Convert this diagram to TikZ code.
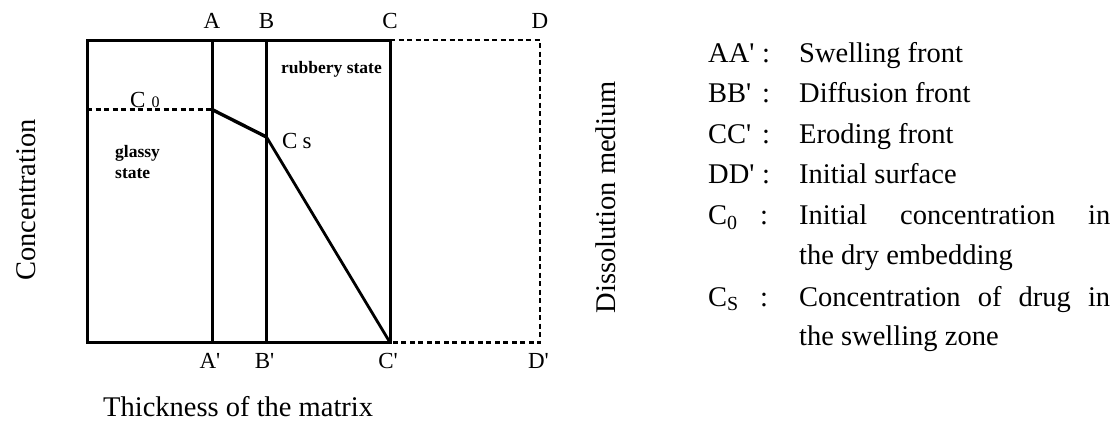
\documentclass[tikz,border=0pt]{standalone}
\usepackage{fontspec}
\setmainfont{Liberation Serif}
\newcommand{\pq}{\textquotesingle}
\tikzset{
  solidln/.style={line width=3pt, line join=miter},
  dashln/.style={line width=2.8pt, dash pattern=on 5pt off 3.5pt},
  big/.style={font=\fontsize{28.5}{34}\selectfont, inner sep=0pt},
  lab/.style={font=\fontsize{23}{26}\selectfont, inner sep=0pt},
  note/.style={font=\fontsize{17.5}{20}\selectfont\bfseries, inner sep=0pt},
}
\begin{document}
\begin{tikzpicture}[x=1pt,y=-1pt]
\useasboundingbox (0,0) rectangle (1114,423);
% frame coordinates
\coordinate (TL) at (87,40);
\coordinate (BL) at (87,342.5);
\coordinate (A) at (212,40);   \coordinate (Ap) at (212,342.5);
\coordinate (B) at (266.5,40); \coordinate (Bp) at (266.5,342.5);
\coordinate (C) at (390,40);   \coordinate (Cp) at (390,342.5);
\coordinate (D) at (540,40);   \coordinate (Dp) at (540,342.5);
\coordinate (C0L) at (87,109.5);
\coordinate (C0A) at (212,109.5);
\coordinate (Cs) at (266.5,137);
% lines
\draw[solidln] (TL) -- (C) -- (Cp) -- (BL) -- cycle;
\draw[solidln] (A) -- (Ap);
\draw[solidln] (B) -- (Bp);
\draw[dashln] (C) -- (D) -- (Dp) -- (Cp);
\draw[dashln] (C0L) -- (C0A);
\draw[line width=3.4pt] (C0A) -- (Cs);
\draw[line width=2.8pt] (Cs) -- (Cp);
% top / bottom labels
\node[lab, anchor=base] (lA) at (212,28) {A};
\node[lab, anchor=base] (lB) at (266.5,28) {B};
\node[lab, anchor=base] (lC) at (390,28) {C};
\node[lab, anchor=base] (lD) at (540,28) {D};
\node[lab, anchor=base] (lAp) at (210,368) {A\pq};
\node[lab, anchor=base] (lBp) at (264.5,368) {B\pq};
\node[lab, anchor=base] (lCp) at (388,368) {C\pq};
\node[lab, anchor=base] (lDp) at (538.5,368) {D\pq};
% inner labels
\node[lab, anchor=base west] (lC0) at (130,107) {C\hspace{6pt}{\fontsize{16}{16}\selectfont 0}};
\node[lab, anchor=base west] (lCs) at (282,148) {C\hspace{5pt}s};
\node[note, anchor=base west] (gl1) at (115,157) {glassy};
\node[note, anchor=base west] (gl2) at (115,178) {state};
\node[note, anchor=base west] (rub) at (281,73) {rubbery state};
% axis titles
\node[big, rotate=90, anchor=base] (conc) at (35,200) {Concentration};
\node[big, rotate=90, anchor=base] (diss) at (615,197.5) {Dissolution medium};
\node[big, anchor=base west] (thick) at (103,416) {Thickness of the matrix};
% legend
\foreach \k/\y/\t [count=\i] in {AA\pq/62/Swelling front, BB\pq/102.5/Diffusion front, CC\pq/143/Eroding front, DD\pq/183.5/Initial surface}{
  \node[big, anchor=base west] (key\i) at (708,\y) {\k};
  \node[big, anchor=base] (col\i) at (766,\y) {:};
  \node[big, anchor=base west] (txt\i) at (799,\y) {\t};
}
\node[big, anchor=base west] (key5) at (708,224.5) {C\textsubscript{0}};
\node[big, anchor=base] (col5) at (764,224.5) {:};
\node[big, anchor=base west] (txt5) at (799,224.5) {\makebox[311pt][s]{Initial concentration in}};
\node[big, anchor=base west] (txt5b) at (799,264.5) {the dry embedding};
\node[big, anchor=base west] (key6) at (708,306) {C\textsubscript{S}};
\node[big, anchor=base] (col6) at (764,306) {:};
\node[big, anchor=base west] (txt6) at (799,306) {\makebox[311pt][s]{Concentration of drug in}};
\node[big, anchor=base west] (txt6b) at (799,345.5) {the swelling zone};
\end{tikzpicture}
\end{document}
